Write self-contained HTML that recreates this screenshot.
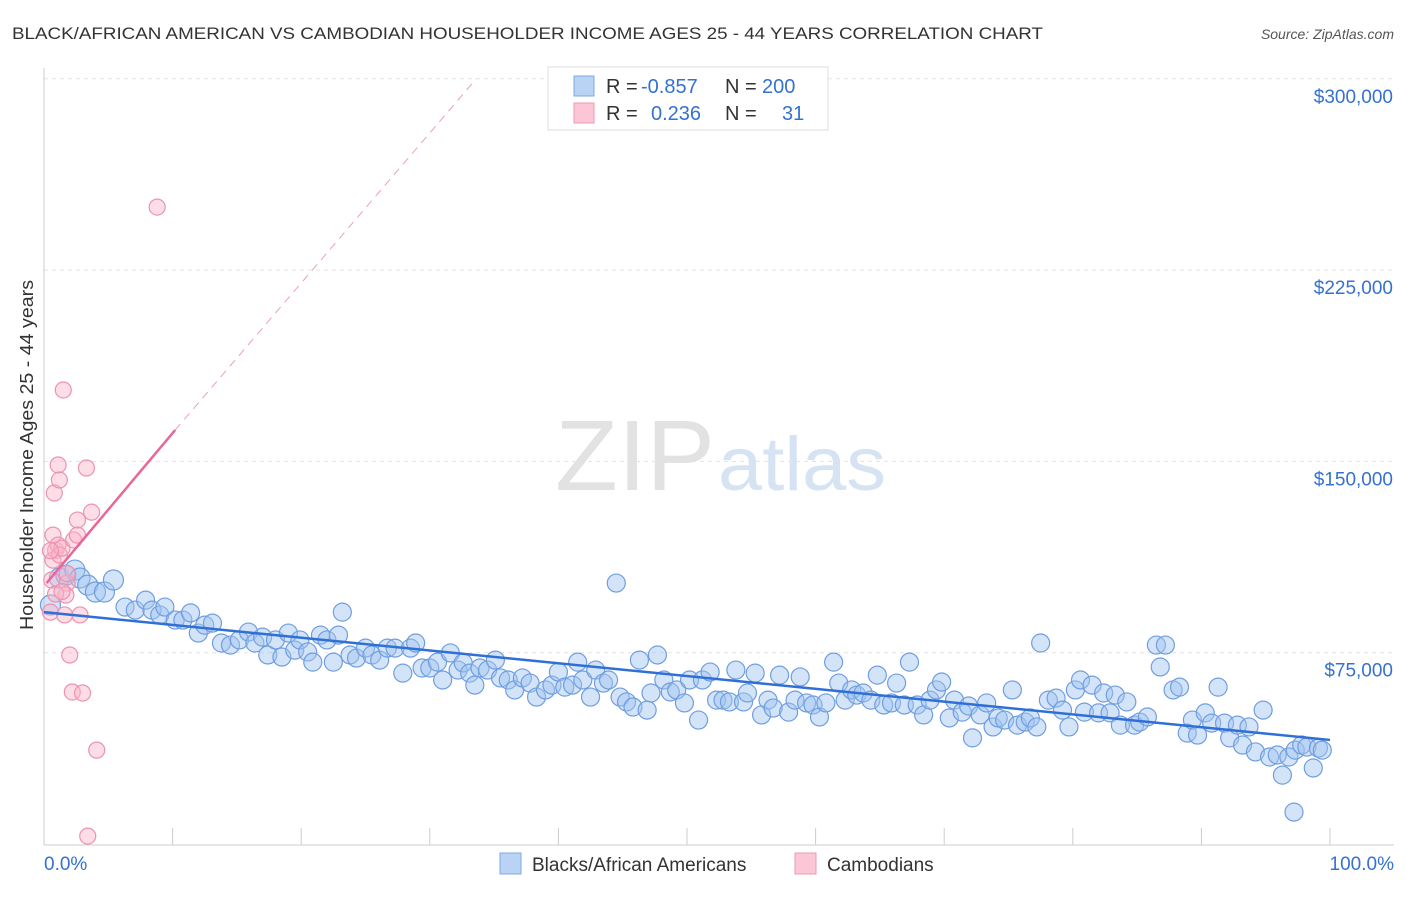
<!DOCTYPE html>
<html><head><meta charset="utf-8"><style>
body{margin:0;background:#fff;font-family:"Liberation Sans",sans-serif;}
svg text{font-family:"Liberation Sans",sans-serif;}
</style></head><body>
<svg id="c" width="1406" height="892">
<text x="12" y="39" font-size="17" fill="#333" textLength="1031" lengthAdjust="spacingAndGlyphs">BLACK/AFRICAN AMERICAN VS CAMBODIAN HOUSEHOLDER INCOME AGES 25 - 44 YEARS CORRELATION CHART</text>
<text x="1394" y="39" font-size="14" fill="#555" font-style="italic" text-anchor="end">Source: ZipAtlas.com</text>
<text x="555" y="490" font-size="100" fill="#e2e2e2" textLength="160" lengthAdjust="spacingAndGlyphs" font-family="Liberation Serif">ZIP</text>
<text x="718" y="490" font-size="76" fill="#d6e3f3" textLength="168" lengthAdjust="spacingAndGlyphs">atlas</text>
<text x="33" y="455" font-size="18" fill="#333" text-anchor="middle" textLength="350" lengthAdjust="spacingAndGlyphs" transform="rotate(-90 33 455)">Householder Income Ages 25 - 44 years</text>
<g id="grid"></g><g id="marks"></g>
<g>
<rect x="548" y="67" width="280" height="63" fill="#fff" stroke="#ddd"/>
<rect x="574" y="76" width="20" height="20" fill="#b9d3f5" stroke="#7fa9e4"/>
<rect x="574" y="103" width="20" height="20" fill="#fcc6d6" stroke="#ec9ab4"/>
<text x="606" y="93" font-size="20" fill="#333">R =</text><text x="641" y="93" font-size="20" fill="#3571d0">-0.857</text>
<text x="725" y="93" font-size="20" fill="#333">N =</text><text x="762" y="93" font-size="20" fill="#3571d0">200</text>
<text x="606" y="120" font-size="20" fill="#333">R =</text><text x="651" y="120" font-size="20" fill="#3571d0">0.236</text>
<text x="725" y="120" font-size="20" fill="#333">N =</text><text x="782" y="120" font-size="20" fill="#3571d0">31</text>
</g>
<g>
<rect x="500" y="853" width="21" height="21" fill="#b9d3f5" stroke="#7fa9e4"/>
<text x="532" y="871" font-size="19" fill="#333">Blacks/African Americans</text>
<rect x="795" y="853" width="21" height="21" fill="#fcc6d6" stroke="#ec9ab4"/>
<text x="827" y="871" font-size="19" fill="#333">Cambodians</text>
</g>
</svg>
<script>
const yTicks=[75000,150000,225000,300000];
const yTickLabels=["$75,000","$150,000","$225,000","$300,000"];
const xEndLabels=["0.0%","100.0%"];
const blackX=[0.5,1.2,1.7,2.4,2.8,3.4,4.0,4.7,5.4,6.3,7.1,7.9,8.4,9.0,9.4,10.2,10.8,11.4,12.0,12.5,13.1,13.8,14.5,15.2,15.9,16.4,17.0,17.4,18.0,18.5,19.0,19.5,19.9,20.5,20.9,21.5,22.0,22.5,22.9,23.2,23.8,24.3,25.0,25.5,26.1,26.7,27.3,27.9,28.5,28.9,29.4,30.0,30.6,31.0,31.6,32.2,32.6,33.1,33.5,33.9,34.5,35.1,35.5,36.1,36.6,37.2,37.8,38.3,39.0,39.5,40.0,40.5,41.1,41.5,41.9,42.5,42.9,43.5,43.9,44.5,44.8,45.3,45.8,46.3,46.9,47.2,47.7,48.2,48.7,49.2,49.8,50.2,50.9,51.2,51.8,52.3,52.8,53.3,53.8,54.4,54.7,55.3,55.8,56.3,56.7,57.2,57.9,58.4,58.8,59.3,59.8,60.3,60.8,61.4,61.8,62.3,62.8,63.2,63.7,64.3,64.8,65.3,65.9,66.3,66.9,67.3,67.9,68.4,68.9,69.4,69.8,70.4,70.8,71.4,71.9,72.2,72.8,73.3,73.8,74.2,74.7,75.3,75.7,76.3,76.7,77.2,77.5,78.1,78.7,79.2,79.7,80.2,80.6,80.9,81.5,82.0,82.4,82.9,83.3,83.7,84.2,84.8,85.2,85.8,86.5,86.8,87.2,87.8,88.3,88.9,89.3,89.7,90.3,90.8,91.3,91.8,92.2,92.8,93.2,93.7,94.2,94.8,95.3,95.9,96.3,96.8,97.3,97.8,98.2,98.7,99.1,99.4,97.2];
const blackY=[93.7,104.3,105.4,107.4,104.3,101.5,98.8,98.8,103.5,92.9,91.7,95.6,91.7,89.8,92.9,87.8,87.8,90.6,82.7,85.8,86.6,78.8,78.0,80.0,83.1,78.8,81.1,74.1,80.0,73.3,82.7,76.0,80.0,75.3,71.3,81.9,80.0,71.3,81.9,90.9,74.1,72.9,76.8,74.1,72.1,76.8,76.8,67.0,76.8,78.8,69.0,69.0,71.3,64.3,74.9,68.2,71.0,67.0,62.3,69.0,68.2,72.1,65.1,64.3,60.4,65.1,63.1,57.6,60.4,62.3,67.4,61.5,62.3,71.3,64.3,57.6,68.2,63.1,64.3,102.3,57.6,55.7,53.7,72.1,52.5,59.2,74.1,64.3,59.6,60.4,55.3,64.3,48.6,64.3,67.4,56.4,56.4,55.7,68.2,55.7,59.2,67.0,50.6,56.4,53.3,66.2,51.7,56.4,65.5,55.3,54.5,49.8,55.3,71.3,63.1,56.4,60.4,58.4,59.2,56.4,66.2,54.5,55.3,63.1,54.5,71.3,54.5,50.6,56.4,60.4,63.5,49.4,56.4,51.7,54.1,41.6,50.6,55.3,45.9,49.4,48.6,60.4,46.6,47.8,49.4,45.9,78.8,56.4,57.2,52.5,45.9,60.4,64.3,51.7,62.3,51.4,59.2,51.4,58.4,46.6,55.7,46.6,47.8,49.8,78.0,69.4,78.0,60.4,61.5,43.5,48.6,42.7,51.4,47.4,61.5,47.4,41.6,46.6,38.8,45.9,36.1,52.5,34.1,34.9,27.0,34.1,36.8,38.8,38.0,29.8,37.6,36.8,12.5];
const cambX=[0.5,0.6,0.7,0.8,0.7,0.9,1.1,1.1,1.2,1.2,1.4,1.5,1.6,1.8,1.7,2.0,2.2,2.3,2.6,2.6,2.8,3.0,3.3,3.4,3.7,4.1,8.8,0.9,1.4,0.5,1.8];
const cambY=[90.9,103.5,121.1,137.6,111.3,115.2,148.6,117.2,142.7,113.3,116.0,178.0,89.8,102.3,97.6,74.1,59.6,119.2,127.0,121.1,89.8,59.2,147.4,3.1,130.1,36.8,249.7,98.0,99.0,115.0,106.0];
const blackTrend=[90.9,40.8];
const cambTrend=[102.3,162.3,10.2];
const NS="http://www.w3.org/2000/svg";
const X0=44,X1=1330,YB=844,PXK=191.3/75;
const sx=p=>X0+p*(X1-X0)/100, sy=k=>YB-k*PXK;
function mk(t,a,p){const e=document.createElementNS(NS,t);for(const k in a)e.setAttribute(k,a[k]);p.appendChild(e);return e;}
const grid=document.getElementById('grid'),marks=document.getElementById('marks');
yTicks.forEach((v,i)=>{const y=sy(v/1000);
const l=mk('line',{x1:44,x2:1394,y1:y,y2:y,stroke:'#e3e3e3','stroke-dasharray':'4,4'},grid);


const t=mk('text',{x:1393,y:y+24,'font-size':19,fill:'#3571d0','text-anchor':'end'},grid);t.textContent=yTickLabels[i];

});
const ax=mk('line',{x1:44,x2:1394,y1:845,y2:845,stroke:'#ccc'},grid);


const ay=mk('line',{x1:44,x2:44,y1:68,y2:845,stroke:'#ccc'},grid);


for(let i=0;i<=10;i++){const x=sx(i*10);const tk=mk('line',{x1:x,x2:x,y1:828,y2:845,stroke:'#ccc'},grid);

}
xEndLabels.forEach((s,i)=>{const t=mk('text',{x:i?1394:44,y:870,'font-size':19,fill:'#3571d0','text-anchor':i?'end':'start'},grid);t.textContent=s;

});
blackX.forEach((x,i)=>{const r=i<9?10:9;const c=mk('circle',{cx:sx(x),cy:sy(blackY[i]),r:r,fill:'rgba(160,195,240,0.45)',stroke:'#6f9ee0','stroke-width':1.2},marks);

});
cambX.forEach((x,i)=>{const c=mk('circle',{cx:sx(x),cy:sy(cambY[i]),r:8,fill:'rgba(250,180,200,0.45)',stroke:'#eb93b0','stroke-width':1.2},marks);

});
const bl=mk('line',{x1:sx(0),y1:sy(blackTrend[0]),x2:sx(100),y2:sy(blackTrend[1]),stroke:'#2f6fd6','stroke-width':2.5},marks);


const slope=(cambTrend[1]-cambTrend[0])/cambTrend[2];
const xEnd=(300-cambTrend[0])/slope;
const pd=mk('line',{x1:sx(cambTrend[2]),y1:sy(cambTrend[1]),x2:sx(xEnd),y2:sy(300),stroke:'#eaa0b8','stroke-width':1,'stroke-dasharray':'8,6'},marks);


const pl=mk('line',{x1:sx(0.2),y1:sy(cambTrend[0]),x2:sx(cambTrend[2]),y2:sy(cambTrend[1]),stroke:'#e8679a','stroke-width':2.5},marks);


</script>
</body></html>
